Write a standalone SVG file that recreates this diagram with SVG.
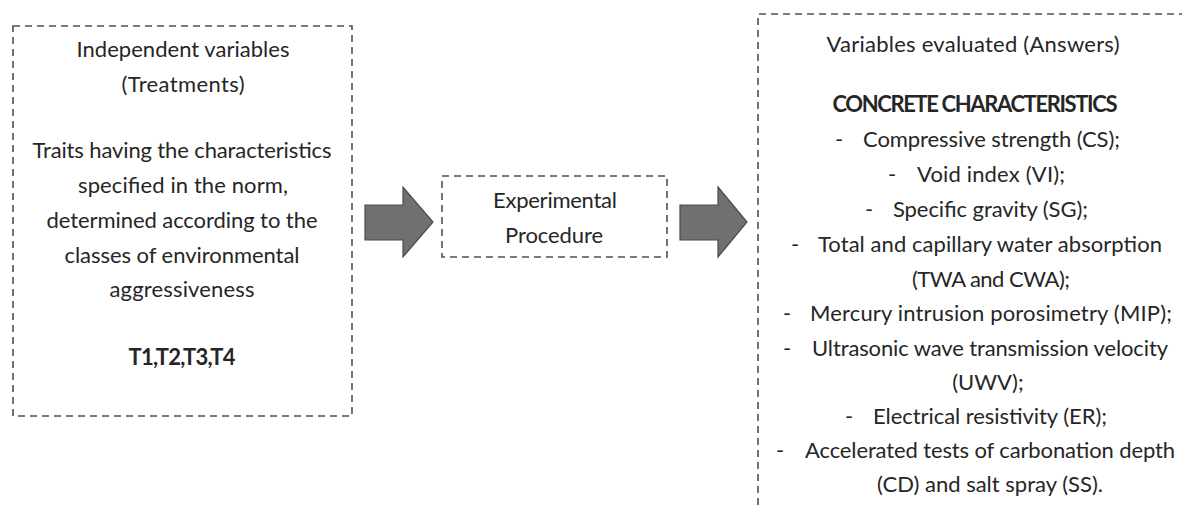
<svg xmlns="http://www.w3.org/2000/svg" width="1182" height="505" viewBox="0 0 1182 505">
<style>
.box{fill:none;stroke:#505050;stroke-width:1.6;stroke-dasharray:7 5}
.t{font-family:Lato,"Liberation Sans",sans-serif;font-size:22px;fill:#262626}
.c{text-anchor:middle}
.b{font-weight:bold}
.arrow{fill:#707070;stroke:#4a4a4a;stroke-width:1.2}
</style>
<rect width="1182" height="505" fill="#ffffff"/>
<g id="independent">
<rect class="box" x="13" y="26" width="339" height="390"/>
<text class="t c" x="183" y="57" textLength="213">Independent variables</text>
<text class="t c" x="183" y="92" textLength="123">(Treatments)</text>
<text class="t c" x="182" y="158" textLength="299">Traits having the characteristics</text>
<text class="t c" x="183" y="193" textLength="210">specified in the norm,</text>
<text class="t c" x="182" y="228" textLength="271">determined according to the</text>
<text class="t c" x="182" y="263" textLength="235">classes of environmental</text>
<text class="t c" x="182" y="297" textLength="145">aggressiveness</text>
<text class="t c b" x="182" y="365" textLength="107">T1,T2,T3,T4</text>
</g>
<g id="procedure">
<rect class="box" x="442" y="176" width="225" height="81"/>
<text class="t c" x="555" y="208" textLength="124">Experimental</text>
<text class="t c" x="554" y="243" textLength="98">Procedure</text>
</g>
<g id="answers">
<path class="box" d="M758,505 V14 H1182"/>
<text class="t c" x="973" y="52" textLength="293">Variables evaluated (Answers)</text>
<text class="t c b" x="975" y="112" textLength="285">CONCRETE CHARACTERISTICS</text>
<text class="t" x="835" y="147">-</text><text class="t" x="863" y="147" textLength="257">Compressive strength (CS);</text>
<text class="t" x="888" y="182">-</text><text class="t" x="917" y="182" textLength="148">Void index (VI);</text>
<text class="t" x="865" y="217">-</text><text class="t" x="893" y="217" textLength="195">Specific gravity (SG);</text>
<text class="t" x="791" y="252">-</text><text class="t" x="818" y="252" textLength="344">Total and capillary water absorption</text>
<text class="t c" x="991" y="287" textLength="158">(TWA and CWA);</text>
<text class="t" x="783" y="321">-</text><text class="t" x="810" y="321" textLength="362">Mercury intrusion porosimetry (MIP);</text>
<text class="t" x="783" y="356">-</text><text class="t" x="812" y="356" textLength="356">Ultrasonic wave transmission velocity</text>
<text class="t c" x="988" y="390">(UWV);</text>
<text class="t" x="845" y="424">-</text><text class="t" x="873" y="424" textLength="234">Electrical resistivity (ER);</text>
<text class="t" x="776" y="458">-</text><text class="t" x="805" y="458" textLength="370">Accelerated tests of carbonation depth</text>
<text class="t c" x="990" y="492" textLength="226">(CD) and salt spray (SS).</text>
</g>
<g id="connectors">
<path class="arrow" d="M365,205 H403 V187 L433,222 L403,257 V240 H365 Z"/>
<path class="arrow" d="M680,205 H718 V187 L747,222 L718,257 V240 H680 Z"/>
</g>
</svg>
